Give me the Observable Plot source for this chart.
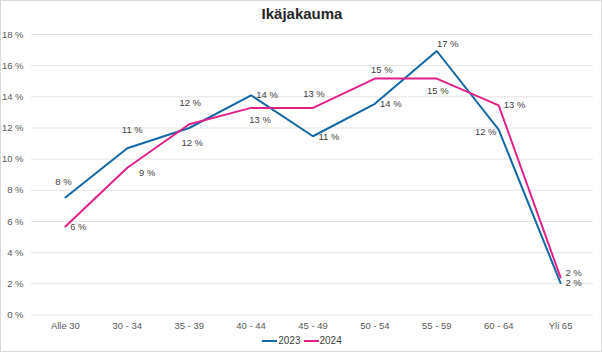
<!DOCTYPE html>
<html>
<head>
<meta charset="utf-8">
<script src="https://cdn.jsdelivr.net/npm/d3@7"></script>
<script src="https://cdn.jsdelivr.net/npm/@observablehq/plot@0.6"></script>
<style>
  html, body { margin: 0; padding: 0; background: #fff; }
  #wrap { position: relative; width: 602px; height: 352px; box-sizing: border-box; border: 1px solid #d9d9d9; font-family: "Liberation Sans", Arial, sans-serif; overflow: hidden; }
  #title { position: absolute; left: 0; top: 4px; width: 602px; text-align: center; font-size: 15px; font-weight: bold; color: #262626; line-height: 18px; }
  #chart { position: absolute; left: -1px; top: 25px; }
  #legend { position: absolute; left: 0; top: 333px; width: 602px; display: flex; justify-content: center; gap: 3px; font-size: 10px; color: #404040; line-height: 14px; }
  .item { display: flex; align-items: center; }
  .sw { display: inline-block; width: 15px; height: 2px; margin-right: 1px; }
</style>
</head>
<body>
<div id="wrap">
  <div id="title">Ikäjakauma</div>
  <div id="chart"></div>
  <div id="legend"></div>
</div>
<script>
const categories = ["Alle 30", "30 - 34", "35 - 39", "40 - 44", "45 - 49", "50 - 54", "55 - 59", "60 - 64", "Yli 65"];
const values2023 = [7.54, 10.7, 12.0, 14.1, 11.47, 13.55, 16.94, 11.9, 2.05];
const values2024 = [5.68, 9.45, 12.24, 13.29, 13.29, 15.17, 15.17, 13.45, 2.41];
const seriesNames = ["2023", "2024"];
const yTicks = [0, 2, 4, 6, 8, 10, 12, 14, 16, 18];

const colors = {"2023": "#1467a6", "2024": "#e0218a"};
// label offsets (styling only), [dx, dy] per category
const offsets2023 = [[-2, -16], [5, -18], [3, 15], [16, 0], [16, 1], [16, 0], [11, -7], [-13, 2], [13, 0]];
const offsets2024 = [[13, 0], [20, 5], [1, -21], [9, 12], [1, -14], [7, -9], [1, 12], [16, 0], [13, -5]];

const data = [];
categories.forEach((c, i) => {
  data.push({cat: c, series: "2023", value: values2023[i], dx: offsets2023[i][0], dy: offsets2023[i][1]});
  data.push({cat: c, series: "2024", value: values2024[i], dx: offsets2024[i][0], dy: offsets2024[i][1]});
});

const labelMarks = data.map(d => Plot.text([d], {
  x: "cat", y: "value",
  text: v => Math.round(v.value) + " %",
  dx: d.dx, dy: d.dy,
  fill: "#404040", fontSize: 9.5
}));

const plot = Plot.plot({
  width: 602,
  height: 313,
  marginTop: 8,
  marginLeft: 31,
  marginRight: 8,
  marginBottom: 24,
  style: {fontFamily: "'Liberation Sans', Arial, sans-serif", fontSize: "9.5px", color: "#595959", background: "transparent"},
  x: {type: "point", domain: categories, padding: 0.5, label: null},
  y: {domain: [0, 18], ticks: yTicks, label: null},
  color: {domain: seriesNames, range: seriesNames.map(s => colors[s])},
  marks: [
    Plot.gridY(yTicks, {stroke: "#e3e3e3", strokeOpacity: 1, strokeWidth: 1}),
    Plot.axisY(yTicks, {tickSize: 0, tickPadding: 8, tickFormat: d => d + " %", fill: "#595959", label: null}),
    Plot.axisX({tickSize: 0, tickPadding: 7, fill: "#595959", label: null}),
    Plot.line(data, {x: "cat", y: "value", stroke: "series", z: "series", strokeWidth: 2, strokeLinejoin: "miter"}),
    ...labelMarks
  ]
});
document.getElementById("chart").appendChild(plot);

const legend = document.getElementById("legend");
seriesNames.forEach(s => {
  const it = document.createElement("div");
  it.className = "item";
  const sw = document.createElement("span");
  sw.className = "sw";
  sw.style.background = colors[s];
  it.appendChild(sw);
  it.appendChild(document.createTextNode(s));
  legend.appendChild(it);
});
</script>
</body>
</html>
